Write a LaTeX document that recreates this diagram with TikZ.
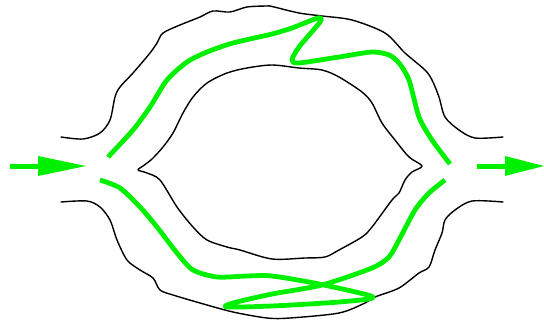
\documentclass[tikz,border=0pt]{standalone}
\begin{document}
\begin{tikzpicture}[x=1pt,y=-1pt,
  wall/.style={black,line width=1.4pt,line join=round,line cap=round},
  ray/.style={draw=lgreen,line width=4.8pt,line join=round,line cap=butt},
  arrowhead/.style={fill=lgreen,draw=none}]
\definecolor{lgreen}{RGB}{0,240,0}
\useasboundingbox (0,0) rectangle (544,321);
% outer top wall
\draw[wall] plot[smooth,tension=0.5] coordinates {(61,137) (83,139) (100,133) (110,120) (115,97) (120,87) (133,73) (150,53) (157,43) (163,33) (180,25) (200,17) (213,11) (230,12) (247,7) (267,6) (272,6.5) (299,13) (322,16) (352,20) (385,33) (405,53) (425,70) (432,80) (439,97) (445,117) (459,130) (475,138) (503,137)};
% outer bottom wall
\draw[wall] plot[smooth,tension=0.5] coordinates {(61,202) (87,201) (100,207) (110,220) (117,240) (127,260) (140,270) (153,278) (160,290) (173,295) (200,303) (233,312) (267,318) (290,318) (339,313) (365,303) (375,297) (399,288) (419,273) (429,267) (435,250) (442,233) (445,220) (455,210) (472,201) (503,202)};
% inner loop
\draw[wall] plot[smooth cycle,tension=0.5] coordinates {(152,159) (163,147) (173,133) (183,113) (193,97) (207,83) (227,73) (247,68) (272,65) (299,68) (322,70) (339,77) (362,92) (372,103) (382,123) (395,140) (409,157) (422,166) (412,172) (405,180) (399,193) (392,200) (372,227) (362,237) (339,250) (325,257) (305,258) (272,259) (240,250) (227,247) (207,240) (193,227) (177,207) (160,180) (147,173) (138,170) (143,166)};
% upper green ray
\draw[ray] plot[smooth,tension=0.45] coordinates {(108,157) (133,130) (150,107) (167,80) (187,62) (207,52) (233,43) (272,34) (292,28) (318,18) (320,22) (299,47) (292,60) (299,63) (339,57) (372,52) (389,55) (399,63) (409,80) (419,117) (432,140) (450,164)};
% lower green ray
\draw[ray] plot[smooth,tension=0.45] coordinates {(100,180) (120,188) (140,207) (157,227) (177,253) (193,270) (217,277) (247,276) (272,276) (319,284) (373,297) (339,302) (272,306) (227,307) (233,303) (272,294) (322,285) (372,268) (389,257) (399,240) (415,210) (429,193) (445,180)};
% arrows
\coordinate (a1s) at (10,166); \coordinate (a1b) at (40,166); \coordinate (a1t) at (86,166);
\coordinate (a2s) at (477,166); \coordinate (a2b) at (507,166); \coordinate (a2t) at (544,166);
\draw[draw=lgreen,line width=5pt] (a1s) -- (a1b);
\fill[arrowhead] (38,156) -- (a1t) -- (38,176) -- cycle;
\draw[draw=lgreen,line width=5pt] (a2s) -- (a2b);
\fill[arrowhead] (505,156) -- (a2t) -- (505,176) -- cycle;
\end{tikzpicture}
\end{document}
